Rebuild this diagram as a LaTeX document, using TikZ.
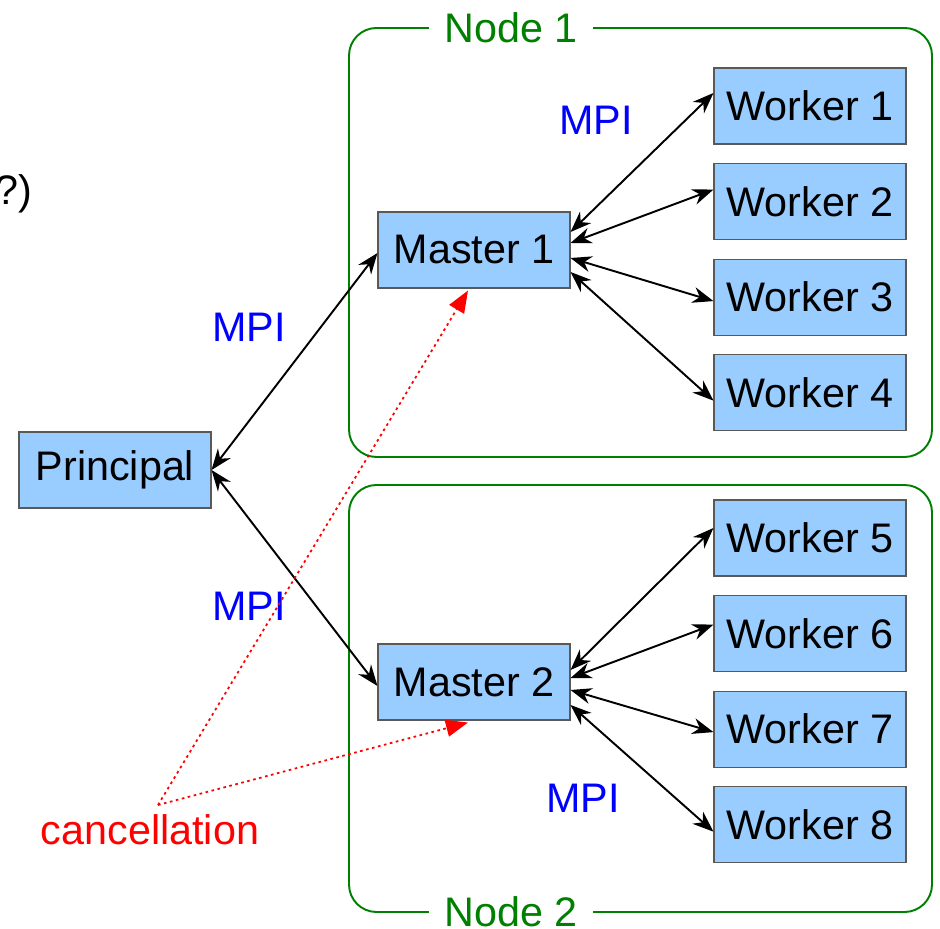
\documentclass[tikz,border=0pt]{standalone}
\usepackage{fontspec}
\setmainfont{Liberation Sans}
\usepackage{xcolor}
\usetikzlibrary{arrows.meta,positioning,calc}
\definecolor{boxblue}{HTML}{99CCFF}
\definecolor{nodegreen}{HTML}{008000}

\begin{document}
\begin{tikzpicture}[>={Stealth[length=4.2mm,width=3.2mm]},
    every node/.style={font=\fontsize{23.5}{28}\selectfont},
    proc/.style={draw=black!65, fill=boxblue, line width=0.6pt, minimum width=3.84cm, minimum height=1.52cm, inner sep=0pt},
    link/.style={<->, line width=1.1pt},
    frame/.style={draw=nodegreen, line width=1.1pt, rounded corners=0.55cm},
    framelabel/.style={fill=white, text=nodegreen, inner xsep=9pt, inner ysep=3pt},
    mpi/.style={text=blue},
    cancel/.style={-{Triangle[length=4.4mm,width=3.4mm]}, red, line width=1pt, dash pattern=on 1.5pt off 2pt}]
    \useasboundingbox (0,0) rectangle (18.8,18.56);

    % the two machines
    \draw[frame] (6.98,9.42) rectangle (18.64,18.00);
    \draw[frame] (6.98,0.32) rectangle (18.64,8.86);
    \node[framelabel] (n1) at (10.22,18.00) {Node 1};
    \node[framelabel] (n2) at (10.22,0.32) {Node 2};

    \node[anchor=base east, inner sep=0pt] (frag) at (0.66,14.46) {?)};

    % processes
    \node[proc] (pr) at (2.30,9.16) {Principal};
    \node[proc] (m1) at (9.48,13.56) {Master 1};
    \node[proc] (m2) at (9.48,4.92) {Master 2};

    \node[proc] (w1) at (16.20,16.44) {Worker 1};
    \node[proc, below=0.37cm of w1] (w2) {Worker 2};
    \node[proc, below=0.37cm of w2] (w3) {Worker 3};
    \node[proc, below=0.37cm of w3] (w4) {Worker 4};

    \node[proc] (w5) at (16.20,7.80) {Worker 5};
    \node[proc, below=0.37cm of w5] (w6) {Worker 6};
    \node[proc, below=0.37cm of w6] (w7) {Worker 7};
    \node[proc, below=0.37cm of w7] (w8) {Worker 8};

    % MPI links
    \draw[link] (pr.east) -- ([yshift=-0.06cm]m1.west);
    \draw[link] (pr.east) -- ([yshift=-0.08cm]m2.west);

    \draw[link] ([yshift=0.36cm]m1.east) -- ([yshift=0.26cm]w1.west);
    \draw[link] ([yshift=0.14cm]m1.east) -- ([yshift=0.24cm]w2.west);
    \draw[link] ([yshift=-0.16cm]m1.east) -- ([yshift=-0.08cm]w3.west);
    \draw[link] ([yshift=-0.44cm]m1.east) -- ([yshift=-0.16cm]w4.west);

    \draw[link] ([yshift=0.24cm]m2.east) -- ([yshift=0.20cm]w5.west);
    \draw[link] ([yshift=0.08cm]m2.east) -- ([yshift=0.18cm]w6.west);
    \draw[link] ([yshift=-0.16cm]m2.east) -- ([yshift=-0.06cm]w7.west);
    \draw[link] ([yshift=-0.46cm]m2.east) -- ([yshift=-0.14cm]w8.west);

    \node[mpi] (mpi1) at (11.92,16.16) {MPI};
    \node[mpi] (mpi2) at (4.98,12.02) {MPI};
    \node[mpi] (mpi3) at (4.98,6.44) {MPI};
    \node[mpi] (mpi4) at (11.66,2.60) {MPI};

    % cancellation
    \node[text=red] (cl) at (3.00,1.96) {cancellation};
    \coordinate (cc) at (3.16,2.46);
    \draw[cancel] (cc) -- ([xshift=-0.12cm,yshift=-0.04cm]m1.south);
    \draw[cancel] (cc) -- ([xshift=-0.12cm,yshift=-0.04cm]m2.south);
\end{tikzpicture}
\end{document}
